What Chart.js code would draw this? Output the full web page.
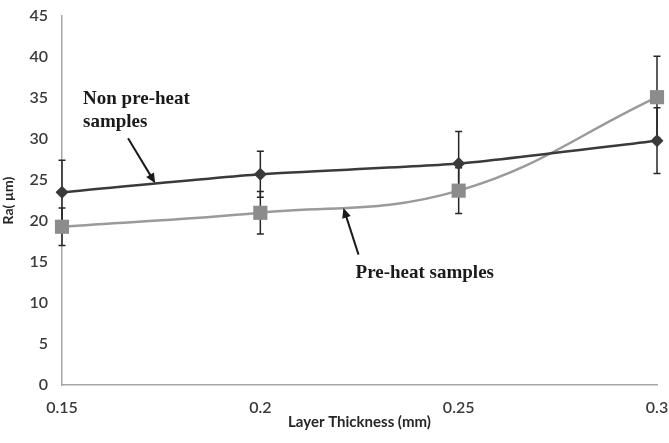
<!DOCTYPE html>
<html>
<head>
<meta charset="utf-8">
<script src="https://cdn.jsdelivr.net/npm/chart.js@4"></script>
<style>
  html, body { margin: 0; padding: 0; background: #fff; }
  #wrap { width: 669px; height: 443px; }
</style>
</head>
<body>
<div id="wrap"><canvas id="chart"></canvas></div>
<script>
const thickness = ['0.15', '0.2', '0.25', '0.3'];
const nonPreheat = [23.5, 25.7, 27.0, 29.8];
const nonPreheatErr = [3.9, 2.8, 3.9, 4.0];
const preheat = [19.3, 21.0, 23.7, 35.1];
const preheatErr = [2.3, 2.6, 2.8, 5.0];

// callouts, placed in data units (x = category index, y = Ra)
const notes = [
  { lines: ['Non pre-heat', 'samples'], x: 0.106, y: 34.9, from: [0.333, 30.1], to: [0.47, 24.6] },
  { lines: ['Pre-heat samples'], x: 1.48, y: 13.7, from: [1.495, 15.9], to: [1.419, 21.6] }
];

const errorBars = {
  id: 'errorBars',
  beforeDatasetsDraw(chart) {
    const ctx = chart.ctx, xs = chart.scales.x, ys = chart.scales.y;
    const sets = [[nonPreheat, nonPreheatErr], [preheat, preheatErr]];
    ctx.save();
    ctx.strokeStyle = '#262626';
    ctx.lineWidth = 1.5;
    sets.forEach(([vals, errs]) => {
      vals.forEach((v, i) => {
        const x = xs.getPixelForValue(i);
        const top = ys.getPixelForValue(v + errs[i]);
        const bot = ys.getPixelForValue(v - errs[i]);
        ctx.beginPath();
        ctx.moveTo(x, top); ctx.lineTo(x, bot);
        ctx.moveTo(x - 3.5, top); ctx.lineTo(x + 3.5, top);
        ctx.moveTo(x - 3.5, bot); ctx.lineTo(x + 3.5, bot);
        ctx.stroke();
      });
    });
    ctx.restore();
  }
};

const callouts = {
  id: 'callouts',
  afterDraw(chart) {
    const ctx = chart.ctx, xs = chart.scales.x, ys = chart.scales.y;
    ctx.save();
    ctx.fillStyle = '#1a1a1a';
    ctx.strokeStyle = '#1a1a1a';
    ctx.font = 'bold 19px "Liberation Serif", serif';
    ctx.textBaseline = 'middle';
    notes.forEach(n => {
      const x = xs.getPixelForValue(n.x);
      const y = ys.getPixelForValue(n.y);
      n.lines.forEach((t, k) => ctx.fillText(t, x, y + k * 23));
      const x0 = xs.getPixelForValue(n.from[0]), y0 = ys.getPixelForValue(n.from[1]);
      const x1 = xs.getPixelForValue(n.to[0]), y1 = ys.getPixelForValue(n.to[1]);
      const a = Math.atan2(y1 - y0, x1 - x0);
      ctx.lineWidth = 2;
      ctx.beginPath();
      ctx.moveTo(x0, y0);
      ctx.lineTo(x1 - 6 * Math.cos(a), y1 - 6 * Math.sin(a));
      ctx.stroke();
      ctx.beginPath();
      ctx.moveTo(x1, y1);
      ctx.lineTo(x1 - 10 * Math.cos(a) + 4.5 * Math.sin(a), y1 - 10 * Math.sin(a) - 4.5 * Math.cos(a));
      ctx.lineTo(x1 - 10 * Math.cos(a) - 4.5 * Math.sin(a), y1 - 10 * Math.sin(a) + 4.5 * Math.cos(a));
      ctx.closePath();
      ctx.fill();
    });
    ctx.restore();
  }
};

new Chart(document.getElementById('chart'), {
  type: 'line',
  data: {
    labels: thickness,
    datasets: [
      {
        label: 'Non pre-heat samples',
        data: nonPreheat,
        borderColor: '#3a3a3a',
        backgroundColor: '#3a3a3a',
        borderWidth: 2.5,
        pointStyle: 'rectRot',
        pointRadius: 6.5,
        pointBorderWidth: 0,
        tension: 0.2,
        fill: false
      },
      {
        label: 'Pre-heat samples',
        data: preheat,
        borderColor: '#9a9a9a',
        backgroundColor: '#8c8c8c',
        borderWidth: 2.5,
        pointStyle: 'rect',
        pointRadius: 10,
        pointBorderWidth: 0,
        tension: 0.4,
        fill: false
      }
    ]
  },
  options: {
    responsive: true,
    maintainAspectRatio: false,
    animation: false,
    layout: { padding: { top: 16, right: 12, left: 0, bottom: 12 } },
    plugins: { legend: { display: false }, tooltip: { enabled: false } },
    scales: {
      x: {
        type: 'category',
        offset: false,
        grid: { display: false, drawTicks: false },
        border: { color: '#a6a6a6', width: 1.5 },
        ticks: { color: '#3a3a3a', font: { family: 'Lato', size: 16, weight: 600 }, padding: 13, maxRotation: 0 },
        title: { display: true, text: 'Layer Thickness (mm)', color: '#262626', font: { family: 'Lato', size: 15, weight: 'bold' }, padding: 0 },
        afterFit(s) { s.height = 46; s.paddingLeft = 0; s.paddingRight = 0; }
      },
      y: {
        min: 0,
        max: 45,
        grid: { display: false, drawTicks: false },
        border: { color: '#a6a6a6', width: 1.5 },
        ticks: { stepSize: 5, color: '#3a3a3a', font: { family: 'Lato', size: 16, weight: 600 }, padding: 14 },
        title: { display: true, text: 'Ra( µm)', color: '#262626', font: { family: 'Lato', size: 14, weight: 'bold' }, padding: 0 },
        afterFit(s) { s.width = 62; s.paddingTop = 0; s.paddingBottom = 0; }
      }
    }
  },
  plugins: [errorBars, callouts]
});
</script>
</body>
</html>
